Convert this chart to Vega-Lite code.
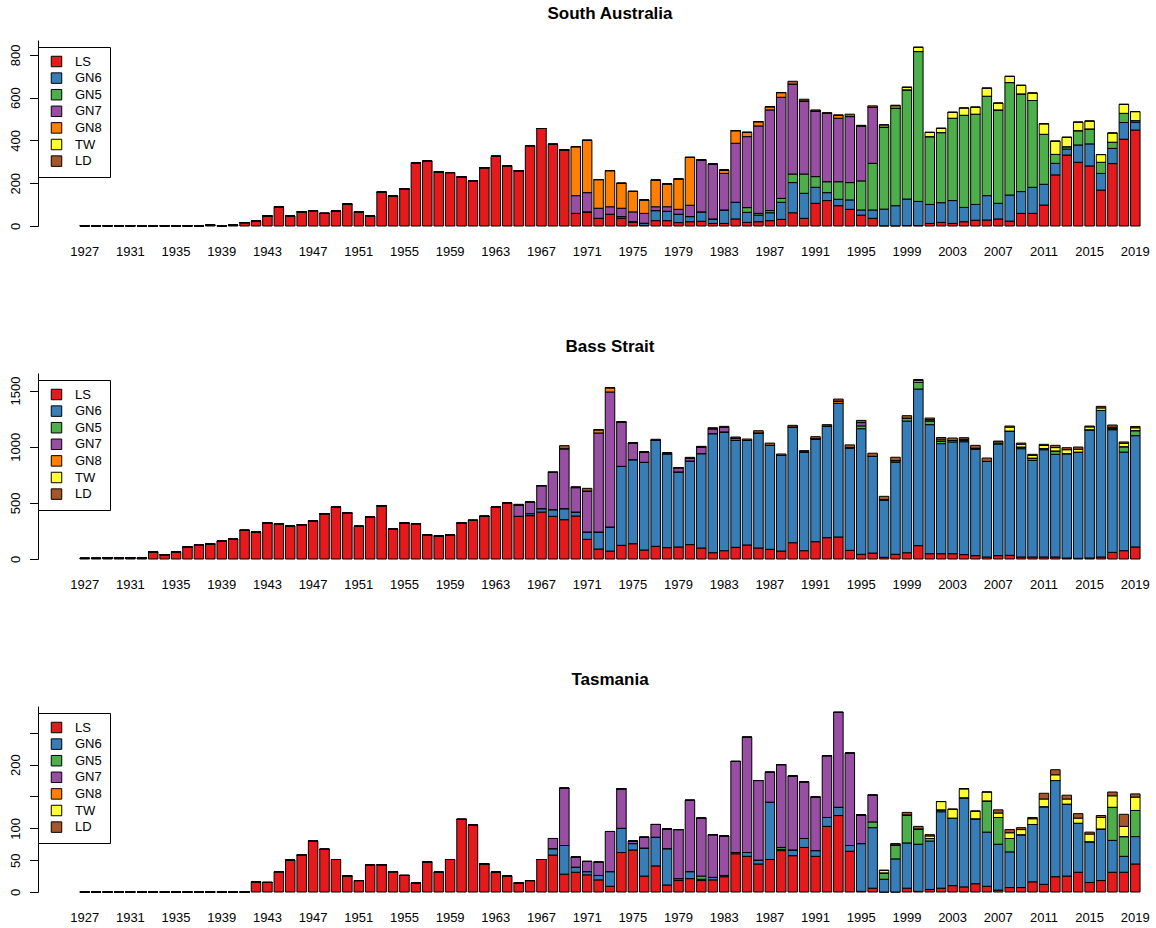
{
"$schema":"https://vega.github.io/schema/vega-lite/v6.json",
"padding":{"left":9,"top":5,"right":0,"bottom":0},
"background":"white",
"spacing":80,
"config":{"font":"Liberation Sans","view":{"stroke":null},"axis":{"labelColor":"black","domainColor":"black","tickColor":"black","grid":false,"labelFontSize":13}},
"datasets":{
"cats":[{"key":"LS","rank":1},{"key":"GN6","rank":2},{"key":"GN5","rank":3},{"key":"GN7","rank":4},{"key":"GN8","rank":5},{"key":"TW","rank":6},{"key":"LD","rank":7}],
"sa":[
{"year":1927,"LS":1,"GN6":0,"GN5":0,"GN7":0,"GN8":0,"TW":0,"LD":0},
{"year":1928,"LS":1,"GN6":0,"GN5":0,"GN7":0,"GN8":0,"TW":0,"LD":0},
{"year":1929,"LS":1,"GN6":0,"GN5":0,"GN7":0,"GN8":0,"TW":0,"LD":0},
{"year":1930,"LS":1,"GN6":0,"GN5":0,"GN7":0,"GN8":0,"TW":0,"LD":0},
{"year":1931,"LS":1,"GN6":0,"GN5":0,"GN7":0,"GN8":0,"TW":0,"LD":0},
{"year":1932,"LS":1,"GN6":0,"GN5":0,"GN7":0,"GN8":0,"TW":0,"LD":0},
{"year":1933,"LS":1,"GN6":0,"GN5":0,"GN7":0,"GN8":0,"TW":0,"LD":0},
{"year":1934,"LS":1,"GN6":0,"GN5":0,"GN7":0,"GN8":0,"TW":0,"LD":0},
{"year":1935,"LS":1,"GN6":0,"GN5":0,"GN7":0,"GN8":0,"TW":0,"LD":0},
{"year":1936,"LS":1,"GN6":0,"GN5":0,"GN7":0,"GN8":0,"TW":0,"LD":0},
{"year":1937,"LS":1,"GN6":0,"GN5":0,"GN7":0,"GN8":0,"TW":0,"LD":0},
{"year":1938,"LS":4,"GN6":0,"GN5":0,"GN7":0,"GN8":0,"TW":0,"LD":0},
{"year":1939,"LS":1,"GN6":0,"GN5":0,"GN7":0,"GN8":0,"TW":0,"LD":0},
{"year":1940,"LS":4,"GN6":0,"GN5":0,"GN7":0,"GN8":0,"TW":0,"LD":0},
{"year":1941,"LS":16,"GN6":0,"GN5":0,"GN7":0,"GN8":0,"TW":0,"LD":0},
{"year":1942,"LS":23,"GN6":0,"GN5":0,"GN7":0,"GN8":0,"TW":0,"LD":0},
{"year":1943,"LS":47,"GN6":0,"GN5":0,"GN7":0,"GN8":0,"TW":0,"LD":0},
{"year":1944,"LS":90,"GN6":0,"GN5":0,"GN7":0,"GN8":0,"TW":0,"LD":0},
{"year":1945,"LS":47,"GN6":0,"GN5":0,"GN7":0,"GN8":0,"TW":0,"LD":0},
{"year":1946,"LS":67,"GN6":0,"GN5":0,"GN7":0,"GN8":0,"TW":0,"LD":0},
{"year":1947,"LS":72,"GN6":0,"GN5":0,"GN7":0,"GN8":0,"TW":0,"LD":0},
{"year":1948,"LS":59,"GN6":0,"GN5":0,"GN7":0,"GN8":0,"TW":0,"LD":0},
{"year":1949,"LS":70,"GN6":0,"GN5":0,"GN7":0,"GN8":0,"TW":0,"LD":0},
{"year":1950,"LS":102,"GN6":0,"GN5":0,"GN7":0,"GN8":0,"TW":0,"LD":0},
{"year":1951,"LS":67,"GN6":0,"GN5":0,"GN7":0,"GN8":0,"TW":0,"LD":0},
{"year":1952,"LS":47,"GN6":0,"GN5":0,"GN7":0,"GN8":0,"TW":0,"LD":0},
{"year":1953,"LS":158,"GN6":0,"GN5":0,"GN7":0,"GN8":0,"TW":0,"LD":0},
{"year":1954,"LS":140,"GN6":0,"GN5":0,"GN7":0,"GN8":0,"TW":0,"LD":0},
{"year":1955,"LS":173,"GN6":0,"GN5":0,"GN7":0,"GN8":0,"TW":0,"LD":0},
{"year":1956,"LS":296,"GN6":0,"GN5":0,"GN7":0,"GN8":0,"TW":0,"LD":0},
{"year":1957,"LS":303,"GN6":0,"GN5":0,"GN7":0,"GN8":0,"TW":0,"LD":0},
{"year":1958,"LS":254,"GN6":0,"GN5":0,"GN7":0,"GN8":0,"TW":0,"LD":0},
{"year":1959,"LS":250,"GN6":0,"GN5":0,"GN7":0,"GN8":0,"TW":0,"LD":0},
{"year":1960,"LS":229,"GN6":0,"GN5":0,"GN7":0,"GN8":0,"TW":0,"LD":0},
{"year":1961,"LS":212,"GN6":0,"GN5":0,"GN7":0,"GN8":0,"TW":0,"LD":0},
{"year":1962,"LS":273,"GN6":0,"GN5":0,"GN7":0,"GN8":0,"TW":0,"LD":0},
{"year":1963,"LS":326,"GN6":0,"GN5":0,"GN7":0,"GN8":0,"TW":0,"LD":0},
{"year":1964,"LS":282,"GN6":0,"GN5":0,"GN7":0,"GN8":0,"TW":0,"LD":0},
{"year":1965,"LS":259,"GN6":0,"GN5":0,"GN7":0,"GN8":0,"TW":0,"LD":0},
{"year":1966,"LS":376,"GN6":0,"GN5":0,"GN7":0,"GN8":0,"TW":0,"LD":0},
{"year":1967,"LS":456,"GN6":0,"GN5":0,"GN7":0,"GN8":0,"TW":0,"LD":0},
{"year":1968,"LS":382,"GN6":0,"GN5":0,"GN7":0,"GN8":0,"TW":0,"LD":0},
{"year":1969,"LS":357,"GN6":0,"GN5":0,"GN7":0,"GN8":0,"TW":0,"LD":0},
{"year":1970,"LS":59,"GN6":0,"GN5":0,"GN7":83,"GN8":229,"TW":0,"LD":0},
{"year":1971,"LS":66,"GN6":0,"GN5":0,"GN7":90,"GN8":245,"TW":0,"LD":0},
{"year":1972,"LS":36,"GN6":0,"GN5":0,"GN7":47,"GN8":134,"TW":0,"LD":0},
{"year":1973,"LS":55,"GN6":0,"GN5":0,"GN7":35,"GN8":169,"TW":0,"LD":0},
{"year":1974,"LS":36,"GN6":8,"GN5":0,"GN7":39,"GN8":117,"TW":0,"LD":0},
{"year":1975,"LS":18,"GN6":2,"GN5":0,"GN7":46,"GN8":96,"TW":0,"LD":0},
{"year":1976,"LS":3,"GN6":10,"GN5":0,"GN7":46,"GN8":63,"TW":0,"LD":0},
{"year":1977,"LS":25,"GN6":47,"GN5":0,"GN7":18,"GN8":125,"TW":0,"LD":0},
{"year":1978,"LS":25,"GN6":44,"GN5":0,"GN7":21,"GN8":107,"TW":0,"LD":0},
{"year":1979,"LS":16,"GN6":39,"GN5":0,"GN7":23,"GN8":142,"TW":0,"LD":0},
{"year":1980,"LS":20,"GN6":24,"GN5":0,"GN7":53,"GN8":224,"TW":0,"LD":0},
{"year":1981,"LS":22,"GN6":44,"GN5":0,"GN7":243,"GN8":0,"TW":0,"LD":0},
{"year":1982,"LS":12,"GN6":21,"GN5":0,"GN7":257,"GN8":0,"TW":0,"LD":0},
{"year":1983,"LS":12,"GN6":63,"GN5":0,"GN7":171,"GN8":16,"TW":0,"LD":0},
{"year":1984,"LS":33,"GN6":78,"GN5":0,"GN7":276,"GN8":59,"TW":0,"LD":0},
{"year":1985,"LS":17,"GN6":47,"GN5":22,"GN7":332,"GN8":20,"TW":0,"LD":0},
{"year":1986,"LS":20,"GN6":31,"GN5":8,"GN7":409,"GN8":20,"TW":0,"LD":0},
{"year":1987,"LS":25,"GN6":37,"GN5":10,"GN7":471,"GN8":15,"TW":0,"LD":0},
{"year":1988,"LS":31,"GN6":80,"GN5":18,"GN7":473,"GN8":22,"TW":0,"LD":0},
{"year":1989,"LS":62,"GN6":141,"GN5":40,"GN7":420,"GN8":0,"TW":0,"LD":14},
{"year":1990,"LS":36,"GN6":117,"GN5":90,"GN7":342,"GN8":0,"TW":0,"LD":8},
{"year":1991,"LS":106,"GN6":75,"GN5":50,"GN7":307,"GN8":0,"TW":0,"LD":5},
{"year":1992,"LS":119,"GN6":37,"GN5":51,"GN7":320,"GN8":0,"TW":0,"LD":3},
{"year":1993,"LS":95,"GN6":30,"GN5":82,"GN7":297,"GN8":14,"TW":0,"LD":0},
{"year":1994,"LS":78,"GN6":44,"GN5":81,"GN7":309,"GN8":0,"TW":0,"LD":11},
{"year":1995,"LS":51,"GN6":24,"GN5":136,"GN7":257,"GN8":0,"TW":0,"LD":3},
{"year":1996,"LS":36,"GN6":39,"GN5":218,"GN7":262,"GN8":0,"TW":0,"LD":7},
{"year":1997,"LS":1,"GN6":78,"GN5":384,"GN7":0,"GN8":0,"TW":10,"LD":0},
{"year":1998,"LS":1,"GN6":94,"GN5":457,"GN7":0,"GN8":0,"TW":10,"LD":3},
{"year":1999,"LS":2,"GN6":124,"GN5":511,"GN7":0,"GN8":0,"TW":12,"LD":0},
{"year":2000,"LS":2,"GN6":113,"GN5":701,"GN7":0,"GN8":0,"TW":20,"LD":0},
{"year":2001,"LS":12,"GN6":89,"GN5":317,"GN7":0,"GN8":0,"TW":20,"LD":0},
{"year":2002,"LS":17,"GN6":92,"GN5":328,"GN7":0,"GN8":0,"TW":20,"LD":0},
{"year":2003,"LS":12,"GN6":107,"GN5":385,"GN7":0,"GN8":0,"TW":28,"LD":0},
{"year":2004,"LS":20,"GN6":67,"GN5":431,"GN7":0,"GN8":0,"TW":34,"LD":0},
{"year":2005,"LS":27,"GN6":74,"GN5":422,"GN7":0,"GN8":0,"TW":33,"LD":0},
{"year":2006,"LS":28,"GN6":114,"GN5":465,"GN7":0,"GN8":0,"TW":38,"LD":0},
{"year":2007,"LS":33,"GN6":73,"GN5":437,"GN7":0,"GN8":0,"TW":32,"LD":0},
{"year":2008,"LS":23,"GN6":122,"GN5":526,"GN7":0,"GN8":0,"TW":29,"LD":0},
{"year":2009,"LS":59,"GN6":102,"GN5":457,"GN7":0,"GN8":0,"TW":40,"LD":0},
{"year":2010,"LS":59,"GN6":122,"GN5":406,"GN7":0,"GN8":0,"TW":35,"LD":0},
{"year":2011,"LS":98,"GN6":97,"GN5":234,"GN7":0,"GN8":0,"TW":49,"LD":0},
{"year":2012,"LS":239,"GN6":54,"GN5":42,"GN7":0,"GN8":0,"TW":62,"LD":0},
{"year":2013,"LS":332,"GN6":28,"GN5":11,"GN7":0,"GN8":0,"TW":44,"LD":0},
{"year":2014,"LS":298,"GN6":81,"GN5":67,"GN7":0,"GN8":0,"TW":40,"LD":0},
{"year":2015,"LS":281,"GN6":103,"GN5":70,"GN7":0,"GN8":0,"TW":37,"LD":0},
{"year":2016,"LS":168,"GN6":78,"GN5":52,"GN7":0,"GN8":0,"TW":36,"LD":0},
{"year":2017,"LS":292,"GN6":71,"GN5":29,"GN7":0,"GN8":0,"TW":43,"LD":0},
{"year":2018,"LS":406,"GN6":78,"GN5":43,"GN7":0,"GN8":0,"TW":42,"LD":0},
{"year":2019,"LS":449,"GN6":36,"GN5":8,"GN7":0,"GN8":0,"TW":42,"LD":0}
],
"bs":[
{"year":1927,"LS":6,"GN6":0,"GN5":0,"GN7":0,"GN8":0,"TW":0,"LD":0},
{"year":1928,"LS":6,"GN6":0,"GN5":0,"GN7":0,"GN8":0,"TW":0,"LD":0},
{"year":1929,"LS":12,"GN6":0,"GN5":0,"GN7":0,"GN8":0,"TW":0,"LD":0},
{"year":1930,"LS":12,"GN6":0,"GN5":0,"GN7":0,"GN8":0,"TW":0,"LD":0},
{"year":1931,"LS":12,"GN6":0,"GN5":0,"GN7":0,"GN8":0,"TW":0,"LD":0},
{"year":1932,"LS":12,"GN6":0,"GN5":0,"GN7":0,"GN8":0,"TW":0,"LD":0},
{"year":1933,"LS":65,"GN6":0,"GN5":0,"GN7":0,"GN8":0,"TW":0,"LD":0},
{"year":1934,"LS":39,"GN6":0,"GN5":0,"GN7":0,"GN8":0,"TW":0,"LD":0},
{"year":1935,"LS":65,"GN6":0,"GN5":0,"GN7":0,"GN8":0,"TW":0,"LD":0},
{"year":1936,"LS":107,"GN6":0,"GN5":0,"GN7":0,"GN8":0,"TW":0,"LD":0},
{"year":1937,"LS":125,"GN6":0,"GN5":0,"GN7":0,"GN8":0,"TW":0,"LD":0},
{"year":1938,"LS":134,"GN6":0,"GN5":0,"GN7":0,"GN8":0,"TW":0,"LD":0},
{"year":1939,"LS":160,"GN6":0,"GN5":0,"GN7":0,"GN8":0,"TW":0,"LD":0},
{"year":1940,"LS":178,"GN6":0,"GN5":0,"GN7":0,"GN8":0,"TW":0,"LD":0},
{"year":1941,"LS":255,"GN6":0,"GN5":0,"GN7":0,"GN8":0,"TW":0,"LD":0},
{"year":1942,"LS":240,"GN6":0,"GN5":0,"GN7":0,"GN8":0,"TW":0,"LD":0},
{"year":1943,"LS":320,"GN6":0,"GN5":0,"GN7":0,"GN8":0,"TW":0,"LD":0},
{"year":1944,"LS":315,"GN6":0,"GN5":0,"GN7":0,"GN8":0,"TW":0,"LD":0},
{"year":1945,"LS":294,"GN6":0,"GN5":0,"GN7":0,"GN8":0,"TW":0,"LD":0},
{"year":1946,"LS":306,"GN6":0,"GN5":0,"GN7":0,"GN8":0,"TW":0,"LD":0},
{"year":1947,"LS":341,"GN6":0,"GN5":0,"GN7":0,"GN8":0,"TW":0,"LD":0},
{"year":1948,"LS":404,"GN6":0,"GN5":0,"GN7":0,"GN8":0,"TW":0,"LD":0},
{"year":1949,"LS":463,"GN6":0,"GN5":0,"GN7":0,"GN8":0,"TW":0,"LD":0},
{"year":1950,"LS":409,"GN6":0,"GN5":0,"GN7":0,"GN8":0,"TW":0,"LD":0},
{"year":1951,"LS":291,"GN6":0,"GN5":0,"GN7":0,"GN8":0,"TW":0,"LD":0},
{"year":1952,"LS":374,"GN6":0,"GN5":0,"GN7":0,"GN8":0,"TW":0,"LD":0},
{"year":1953,"LS":475,"GN6":0,"GN5":0,"GN7":0,"GN8":0,"TW":0,"LD":0},
{"year":1954,"LS":267,"GN6":0,"GN5":0,"GN7":0,"GN8":0,"TW":0,"LD":0},
{"year":1955,"LS":320,"GN6":0,"GN5":0,"GN7":0,"GN8":0,"TW":0,"LD":0},
{"year":1956,"LS":315,"GN6":0,"GN5":0,"GN7":0,"GN8":0,"TW":0,"LD":0},
{"year":1957,"LS":214,"GN6":0,"GN5":0,"GN7":0,"GN8":0,"TW":0,"LD":0},
{"year":1958,"LS":205,"GN6":0,"GN5":0,"GN7":0,"GN8":0,"TW":0,"LD":0},
{"year":1959,"LS":214,"GN6":0,"GN5":0,"GN7":0,"GN8":0,"TW":0,"LD":0},
{"year":1960,"LS":320,"GN6":0,"GN5":0,"GN7":0,"GN8":0,"TW":0,"LD":0},
{"year":1961,"LS":344,"GN6":0,"GN5":0,"GN7":0,"GN8":0,"TW":0,"LD":0},
{"year":1962,"LS":380,"GN6":0,"GN5":0,"GN7":0,"GN8":0,"TW":0,"LD":0},
{"year":1963,"LS":463,"GN6":0,"GN5":0,"GN7":0,"GN8":0,"TW":0,"LD":0},
{"year":1964,"LS":498,"GN6":0,"GN5":0,"GN7":0,"GN8":0,"TW":0,"LD":0},
{"year":1965,"LS":380,"GN6":0,"GN5":0,"GN7":100,"GN8":0,"TW":0,"LD":7},
{"year":1966,"LS":386,"GN6":18,"GN5":0,"GN7":103,"GN8":0,"TW":0,"LD":0},
{"year":1967,"LS":418,"GN6":30,"GN5":0,"GN7":205,"GN8":0,"TW":0,"LD":0},
{"year":1968,"LS":380,"GN6":59,"GN5":0,"GN7":331,"GN8":0,"TW":0,"LD":7},
{"year":1969,"LS":350,"GN6":98,"GN5":0,"GN7":534,"GN8":0,"TW":0,"LD":27},
{"year":1970,"LS":383,"GN6":35,"GN5":0,"GN7":218,"GN8":0,"TW":0,"LD":8},
{"year":1971,"LS":175,"GN6":65,"GN5":0,"GN7":365,"GN8":0,"TW":0,"LD":24},
{"year":1972,"LS":89,"GN6":151,"GN5":0,"GN7":882,"GN8":29,"TW":0,"LD":0},
{"year":1973,"LS":71,"GN6":214,"GN5":0,"GN7":1202,"GN8":38,"TW":0,"LD":0},
{"year":1974,"LS":122,"GN6":703,"GN5":0,"GN7":395,"GN8":0,"TW":0,"LD":0},
{"year":1975,"LS":136,"GN6":748,"GN5":0,"GN7":149,"GN8":0,"TW":0,"LD":0},
{"year":1976,"LS":80,"GN6":781,"GN5":0,"GN7":92,"GN8":0,"TW":0,"LD":0},
{"year":1977,"LS":113,"GN6":943,"GN5":0,"GN7":0,"GN8":0,"TW":0,"LD":10},
{"year":1978,"LS":101,"GN6":837,"GN5":0,"GN7":0,"GN8":0,"TW":0,"LD":10},
{"year":1979,"LS":107,"GN6":668,"GN5":0,"GN7":38,"GN8":0,"TW":0,"LD":0},
{"year":1980,"LS":128,"GN6":744,"GN5":0,"GN7":25,"GN8":0,"TW":0,"LD":8},
{"year":1981,"LS":98,"GN6":840,"GN5":0,"GN7":59,"GN8":0,"TW":0,"LD":6},
{"year":1982,"LS":56,"GN6":1060,"GN5":0,"GN7":44,"GN8":0,"TW":0,"LD":9},
{"year":1983,"LS":74,"GN6":1057,"GN5":0,"GN7":41,"GN8":0,"TW":0,"LD":9},
{"year":1984,"LS":104,"GN6":952,"GN5":0,"GN7":21,"GN8":0,"TW":0,"LD":9},
{"year":1985,"LS":125,"GN6":931,"GN5":0,"GN7":0,"GN8":0,"TW":0,"LD":12},
{"year":1986,"LS":98,"GN6":1024,"GN5":0,"GN7":0,"GN8":0,"TW":0,"LD":20},
{"year":1987,"LS":86,"GN6":926,"GN5":0,"GN7":0,"GN8":0,"TW":0,"LD":20},
{"year":1988,"LS":71,"GN6":852,"GN5":0,"GN7":0,"GN8":0,"TW":0,"LD":12},
{"year":1989,"LS":145,"GN6":1030,"GN5":0,"GN7":0,"GN8":0,"TW":0,"LD":15},
{"year":1990,"LS":74,"GN6":881,"GN5":0,"GN7":0,"GN8":0,"TW":0,"LD":10},
{"year":1991,"LS":154,"GN6":917,"GN5":0,"GN7":0,"GN8":0,"TW":0,"LD":18},
{"year":1992,"LS":190,"GN6":994,"GN5":0,"GN7":0,"GN8":0,"TW":0,"LD":12},
{"year":1993,"LS":196,"GN6":1190,"GN5":0,"GN7":0,"GN8":20,"TW":0,"LD":18},
{"year":1994,"LS":77,"GN6":914,"GN5":0,"GN7":0,"GN8":0,"TW":0,"LD":25},
{"year":1995,"LS":42,"GN6":1118,"GN5":25,"GN7":30,"GN8":0,"TW":0,"LD":19},
{"year":1996,"LS":53,"GN6":861,"GN5":0,"GN7":0,"GN8":0,"TW":0,"LD":28},
{"year":1997,"LS":15,"GN6":513,"GN5":0,"GN7":0,"GN8":0,"TW":0,"LD":30},
{"year":1998,"LS":42,"GN6":819,"GN5":15,"GN7":0,"GN8":0,"TW":0,"LD":30},
{"year":1999,"LS":56,"GN6":1172,"GN5":25,"GN7":0,"GN8":0,"TW":0,"LD":23},
{"year":2000,"LS":119,"GN6":1394,"GN5":60,"GN7":0,"GN8":0,"TW":15,"LD":10},
{"year":2001,"LS":47,"GN6":1149,"GN5":35,"GN7":0,"GN8":0,"TW":10,"LD":14},
{"year":2002,"LS":47,"GN6":980,"GN5":25,"GN7":0,"GN8":0,"TW":15,"LD":15},
{"year":2003,"LS":47,"GN6":995,"GN5":13,"GN7":0,"GN8":0,"TW":0,"LD":22},
{"year":2004,"LS":39,"GN6":1005,"GN5":12,"GN7":0,"GN8":0,"TW":10,"LD":14},
{"year":2005,"LS":30,"GN6":946,"GN5":10,"GN7":0,"GN8":0,"TW":0,"LD":26},
{"year":2006,"LS":18,"GN6":851,"GN5":0,"GN7":0,"GN8":0,"TW":0,"LD":30},
{"year":2007,"LS":30,"GN6":997,"GN5":0,"GN7":0,"GN8":0,"TW":15,"LD":8},
{"year":2008,"LS":33,"GN6":1106,"GN5":0,"GN7":0,"GN8":0,"TW":35,"LD":10},
{"year":2009,"LS":18,"GN6":964,"GN5":15,"GN7":0,"GN8":0,"TW":25,"LD":10},
{"year":2010,"LS":18,"GN6":860,"GN5":20,"GN7":0,"GN8":0,"TW":25,"LD":9},
{"year":2011,"LS":18,"GN6":955,"GN5":10,"GN7":0,"GN8":0,"TW":28,"LD":10},
{"year":2012,"LS":18,"GN6":914,"GN5":30,"GN7":0,"GN8":0,"TW":30,"LD":20},
{"year":2013,"LS":9,"GN6":929,"GN5":0,"GN7":0,"GN8":0,"TW":35,"LD":18},
{"year":2014,"LS":6,"GN6":946,"GN5":0,"GN7":0,"GN8":0,"TW":25,"LD":20},
{"year":2015,"LS":9,"GN6":1142,"GN5":0,"GN7":0,"GN8":0,"TW":25,"LD":8},
{"year":2016,"LS":18,"GN6":1305,"GN5":0,"GN7":0,"GN8":0,"TW":22,"LD":14},
{"year":2017,"LS":59,"GN6":1092,"GN5":10,"GN7":0,"GN8":0,"TW":12,"LD":20},
{"year":2018,"LS":74,"GN6":878,"GN5":48,"GN7":0,"GN8":0,"TW":30,"LD":12},
{"year":2019,"LS":107,"GN6":991,"GN5":45,"GN7":0,"GN8":0,"TW":25,"LD":12}
],
"tas":[
{"year":1927,"LS":0,"GN6":0,"GN5":0,"GN7":0,"GN8":0,"TW":0,"LD":0},
{"year":1928,"LS":0,"GN6":0,"GN5":0,"GN7":0,"GN8":0,"TW":0,"LD":0},
{"year":1929,"LS":0,"GN6":0,"GN5":0,"GN7":0,"GN8":0,"TW":0,"LD":0},
{"year":1930,"LS":0,"GN6":0,"GN5":0,"GN7":0,"GN8":0,"TW":0,"LD":0},
{"year":1931,"LS":0,"GN6":0,"GN5":0,"GN7":0,"GN8":0,"TW":0,"LD":0},
{"year":1932,"LS":0,"GN6":0,"GN5":0,"GN7":0,"GN8":0,"TW":0,"LD":0},
{"year":1933,"LS":0,"GN6":0,"GN5":0,"GN7":0,"GN8":0,"TW":0,"LD":0},
{"year":1934,"LS":0,"GN6":0,"GN5":0,"GN7":0,"GN8":0,"TW":0,"LD":0},
{"year":1935,"LS":0,"GN6":0,"GN5":0,"GN7":0,"GN8":0,"TW":0,"LD":0},
{"year":1936,"LS":0,"GN6":0,"GN5":0,"GN7":0,"GN8":0,"TW":0,"LD":0},
{"year":1937,"LS":0,"GN6":0,"GN5":0,"GN7":0,"GN8":0,"TW":0,"LD":0},
{"year":1938,"LS":0,"GN6":0,"GN5":0,"GN7":0,"GN8":0,"TW":0,"LD":0},
{"year":1939,"LS":0,"GN6":0,"GN5":0,"GN7":0,"GN8":0,"TW":0,"LD":0},
{"year":1940,"LS":0,"GN6":0,"GN5":0,"GN7":0,"GN8":0,"TW":0,"LD":0},
{"year":1941,"LS":0,"GN6":0,"GN5":0,"GN7":0,"GN8":0,"TW":0,"LD":0},
{"year":1942,"LS":16,"GN6":0,"GN5":0,"GN7":0,"GN8":0,"TW":0,"LD":0},
{"year":1943,"LS":15,"GN6":0,"GN5":0,"GN7":0,"GN8":0,"TW":0,"LD":0},
{"year":1944,"LS":32,"GN6":0,"GN5":0,"GN7":0,"GN8":0,"TW":0,"LD":0},
{"year":1945,"LS":50,"GN6":0,"GN5":0,"GN7":0,"GN8":0,"TW":0,"LD":0},
{"year":1946,"LS":58,"GN6":0,"GN5":0,"GN7":0,"GN8":0,"TW":0,"LD":0},
{"year":1947,"LS":80,"GN6":0,"GN5":0,"GN7":0,"GN8":0,"TW":0,"LD":0},
{"year":1948,"LS":67,"GN6":0,"GN5":0,"GN7":0,"GN8":0,"TW":0,"LD":0},
{"year":1949,"LS":51,"GN6":0,"GN5":0,"GN7":0,"GN8":0,"TW":0,"LD":0},
{"year":1950,"LS":25,"GN6":0,"GN5":0,"GN7":0,"GN8":0,"TW":0,"LD":0},
{"year":1951,"LS":18,"GN6":0,"GN5":0,"GN7":0,"GN8":0,"TW":0,"LD":0},
{"year":1952,"LS":43,"GN6":0,"GN5":0,"GN7":0,"GN8":0,"TW":0,"LD":0},
{"year":1953,"LS":43,"GN6":0,"GN5":0,"GN7":0,"GN8":0,"TW":0,"LD":0},
{"year":1954,"LS":32,"GN6":0,"GN5":0,"GN7":0,"GN8":0,"TW":0,"LD":0},
{"year":1955,"LS":26,"GN6":0,"GN5":0,"GN7":0,"GN8":0,"TW":0,"LD":0},
{"year":1956,"LS":14,"GN6":0,"GN5":0,"GN7":0,"GN8":0,"TW":0,"LD":0},
{"year":1957,"LS":47,"GN6":0,"GN5":0,"GN7":0,"GN8":0,"TW":0,"LD":0},
{"year":1958,"LS":31,"GN6":0,"GN5":0,"GN7":0,"GN8":0,"TW":0,"LD":0},
{"year":1959,"LS":51,"GN6":0,"GN5":0,"GN7":0,"GN8":0,"TW":0,"LD":0},
{"year":1960,"LS":114,"GN6":0,"GN5":0,"GN7":0,"GN8":0,"TW":0,"LD":0},
{"year":1961,"LS":105,"GN6":0,"GN5":0,"GN7":0,"GN8":0,"TW":0,"LD":0},
{"year":1962,"LS":44,"GN6":0,"GN5":0,"GN7":0,"GN8":0,"TW":0,"LD":0},
{"year":1963,"LS":31,"GN6":0,"GN5":0,"GN7":0,"GN8":0,"TW":0,"LD":0},
{"year":1964,"LS":25,"GN6":0,"GN5":0,"GN7":0,"GN8":0,"TW":0,"LD":0},
{"year":1965,"LS":14,"GN6":0,"GN5":0,"GN7":0,"GN8":0,"TW":0,"LD":0},
{"year":1966,"LS":18,"GN6":0,"GN5":0,"GN7":0,"GN8":0,"TW":0,"LD":0},
{"year":1967,"LS":51,"GN6":0,"GN5":0,"GN7":0,"GN8":0,"TW":0,"LD":0},
{"year":1968,"LS":58,"GN6":10,"GN5":0,"GN7":16,"GN8":0,"TW":0,"LD":0},
{"year":1969,"LS":28,"GN6":45,"GN5":0,"GN7":90,"GN8":0,"TW":0,"LD":0},
{"year":1970,"LS":31,"GN6":8,"GN5":0,"GN7":16,"GN8":0,"TW":0,"LD":0},
{"year":1971,"LS":27,"GN6":5,"GN5":0,"GN7":16,"GN8":0,"TW":0,"LD":0},
{"year":1972,"LS":19,"GN6":7,"GN5":0,"GN7":21,"GN8":0,"TW":0,"LD":0},
{"year":1973,"LS":9,"GN6":23,"GN5":0,"GN7":63,"GN8":0,"TW":0,"LD":0},
{"year":1974,"LS":62,"GN6":38,"GN5":0,"GN7":62,"GN8":0,"TW":0,"LD":0},
{"year":1975,"LS":66,"GN6":10,"GN5":0,"GN7":4,"GN8":0,"TW":0,"LD":0},
{"year":1976,"LS":25,"GN6":44,"GN5":0,"GN7":17,"GN8":0,"TW":0,"LD":0},
{"year":1977,"LS":41,"GN6":45,"GN5":0,"GN7":20,"GN8":0,"TW":0,"LD":0},
{"year":1978,"LS":11,"GN6":57,"GN5":0,"GN7":31,"GN8":0,"TW":0,"LD":0},
{"year":1979,"LS":18,"GN6":3,"GN5":0,"GN7":77,"GN8":0,"TW":0,"LD":0},
{"year":1980,"LS":21,"GN6":11,"GN5":0,"GN7":112,"GN8":0,"TW":0,"LD":0},
{"year":1981,"LS":18,"GN6":2,"GN5":5,"GN7":91,"GN8":0,"TW":0,"LD":0},
{"year":1982,"LS":19,"GN6":4,"GN5":0,"GN7":67,"GN8":0,"TW":0,"LD":0},
{"year":1983,"LS":24,"GN6":2,"GN5":0,"GN7":62,"GN8":0,"TW":0,"LD":0},
{"year":1984,"LS":60,"GN6":2,"GN5":0,"GN7":143,"GN8":0,"TW":0,"LD":0},
{"year":1985,"LS":56,"GN6":6,"GN5":0,"GN7":181,"GN8":0,"TW":0,"LD":0},
{"year":1986,"LS":44,"GN6":6,"GN5":0,"GN7":125,"GN8":0,"TW":0,"LD":0},
{"year":1987,"LS":51,"GN6":90,"GN5":0,"GN7":47,"GN8":0,"TW":0,"LD":0},
{"year":1988,"LS":65,"GN6":2,"GN5":3,"GN7":130,"GN8":0,"TW":0,"LD":0},
{"year":1989,"LS":57,"GN6":9,"GN5":0,"GN7":116,"GN8":0,"TW":0,"LD":0},
{"year":1990,"LS":70,"GN6":14,"GN5":0,"GN7":89,"GN8":0,"TW":0,"LD":0},
{"year":1991,"LS":56,"GN6":9,"GN5":0,"GN7":84,"GN8":0,"TW":0,"LD":0},
{"year":1992,"LS":103,"GN6":14,"GN5":0,"GN7":97,"GN8":0,"TW":0,"LD":0},
{"year":1993,"LS":120,"GN6":13,"GN5":0,"GN7":149,"GN8":0,"TW":0,"LD":0},
{"year":1994,"LS":64,"GN6":9,"GN5":0,"GN7":145,"GN8":0,"TW":0,"LD":0},
{"year":1995,"LS":1,"GN6":75,"GN5":0,"GN7":45,"GN8":0,"TW":0,"LD":0},
{"year":1996,"LS":6,"GN6":95,"GN5":9,"GN7":42,"GN8":0,"TW":0,"LD":0},
{"year":1997,"LS":0,"GN6":20,"GN5":10,"GN7":0,"GN8":0,"TW":4,"LD":0},
{"year":1998,"LS":0,"GN6":52,"GN5":22,"GN7":0,"GN8":0,"TW":0,"LD":2},
{"year":1999,"LS":6,"GN6":71,"GN5":44,"GN7":0,"GN8":0,"TW":0,"LD":4},
{"year":2000,"LS":1,"GN6":74,"GN5":24,"GN7":0,"GN8":0,"TW":0,"LD":4},
{"year":2001,"LS":4,"GN6":76,"GN5":4,"GN7":0,"GN8":0,"TW":4,"LD":2},
{"year":2002,"LS":6,"GN6":120,"GN5":3,"GN7":0,"GN8":0,"TW":13,"LD":0},
{"year":2003,"LS":10,"GN6":106,"GN5":0,"GN7":0,"GN8":0,"TW":14,"LD":0},
{"year":2004,"LS":8,"GN6":140,"GN5":0,"GN7":0,"GN8":0,"TW":14,"LD":0},
{"year":2005,"LS":13,"GN6":102,"GN5":0,"GN7":0,"GN8":0,"TW":12,"LD":0},
{"year":2006,"LS":9,"GN6":85,"GN5":49,"GN7":0,"GN8":0,"TW":14,"LD":0},
{"year":2007,"LS":3,"GN6":72,"GN5":42,"GN7":0,"GN8":0,"TW":7,"LD":5},
{"year":2008,"LS":7,"GN6":56,"GN5":21,"GN7":0,"GN8":0,"TW":9,"LD":5},
{"year":2009,"LS":7,"GN6":83,"GN5":0,"GN7":0,"GN8":0,"TW":8,"LD":3},
{"year":2010,"LS":16,"GN6":90,"GN5":0,"GN7":0,"GN8":0,"TW":9,"LD":2},
{"year":2011,"LS":12,"GN6":122,"GN5":0,"GN7":0,"GN8":0,"TW":12,"LD":9},
{"year":2012,"LS":24,"GN6":151,"GN5":0,"GN7":0,"GN8":0,"TW":9,"LD":8},
{"year":2013,"LS":25,"GN6":113,"GN5":0,"GN7":0,"GN8":0,"TW":8,"LD":6},
{"year":2014,"LS":31,"GN6":77,"GN5":0,"GN7":0,"GN8":0,"TW":8,"LD":7},
{"year":2015,"LS":15,"GN6":64,"GN5":0,"GN7":0,"GN8":0,"TW":12,"LD":3},
{"year":2016,"LS":18,"GN6":81,"GN5":0,"GN7":0,"GN8":0,"TW":18,"LD":3},
{"year":2017,"LS":31,"GN6":50,"GN5":52,"GN7":0,"GN8":0,"TW":18,"LD":6},
{"year":2018,"LS":31,"GN6":25,"GN5":31,"GN7":0,"GN8":0,"TW":16,"LD":19},
{"year":2019,"LS":44,"GN6":43,"GN5":41,"GN7":0,"GN8":0,"TW":21,"LD":5}
]
},
"vconcat":[
{
"data":{"name":"sa"},
"title":{"text":"South Australia","fontSize":17,"fontWeight":"bold","offset":17,"anchor":"middle","color":"black"},
"width":1062,"height":186,
"transform":[{"fold":["LS","GN6","GN5","GN7","GN8","TW","LD"],"as":["key","value"]},{"lookup":"key","from":{"data":{"name":"cats"},"key":"key","fields":["rank"]}}],
"mark":{"type":"bar","stroke":"black","strokeWidth":1},
"encoding":{
"x":{"field":"year","type":"ordinal","scale":{"paddingInner":0.1667,"paddingOuter":0.0833},"axis":{"title":null,"values":[1927,1931,1935,1939,1943,1947,1951,1955,1959,1963,1967,1971,1975,1979,1983,1987,1991,1995,1999,2003,2007,2011,2015,2019],"labelAngle":0,"domain":false,"ticks":false,"tickSize":0,"labelPadding":19,"labelOverlap":false,"labelFlush":false}},
"y":{"field":"value","type":"quantitative","stack":"zero","scale":{"domain":[0,870],"nice":false},"axis":{"title":null,"values":[0,200,400,600,800],"format":"d","labelAngle":270,"labelAlign":"center","labelBaseline":"bottom","offset":41,"tickSize":8.5,"labelPadding":7}},
"color":{"field":"key","type":"nominal","sort":["LS","GN6","GN5","GN7","GN8","TW","LD"],"scale":{"domain":["LS","GN6","GN5","GN7","GN8","TW","LD"],"range":["#E41A1C","#377EB8","#4DAF4A","#984EA3","#FF7F00","#FFFF33","#A65628"]},"legend":{"title":null,"orient":"none","legendX":-41,"legendY":7,"direction":"vertical","symbolType":"square","symbolSize":110,"symbolStrokeColor":"black","symbolStrokeWidth":1,"symbolOpacity":1,"labelFontSize":13,"labelOffset":12,"padding":8,"symbolOffset":4,"rowPadding":1.6,"strokeColor":"black","fillColor":"white","labelColor":"black"}},
"order":{"field":"rank","type":"quantitative"}
}
},
{
"data":{"name":"bs"},
"title":{"text":"Bass Strait","fontSize":17,"fontWeight":"bold","offset":17,"anchor":"middle","color":"black"},
"width":1062,"height":186,
"transform":[{"fold":["LS","GN6","GN5","GN7","GN8","TW","LD"],"as":["key","value"]},{"lookup":"key","from":{"data":{"name":"cats"},"key":"key","fields":["rank"]}}],
"mark":{"type":"bar","stroke":"black","strokeWidth":1},
"encoding":{
"x":{"field":"year","type":"ordinal","scale":{"paddingInner":0.1667,"paddingOuter":0.0833},"axis":{"title":null,"values":[1927,1931,1935,1939,1943,1947,1951,1955,1959,1963,1967,1971,1975,1979,1983,1987,1991,1995,1999,2003,2007,2011,2015,2019],"labelAngle":0,"domain":false,"ticks":false,"tickSize":0,"labelPadding":19,"labelOverlap":false,"labelFlush":false}},
"y":{"field":"value","type":"quantitative","stack":"zero","scale":{"domain":[0,1656],"nice":false},"axis":{"title":null,"values":[0,500,1000,1500],"format":"d","labelAngle":270,"labelAlign":"center","labelBaseline":"bottom","offset":41,"tickSize":8.5,"labelPadding":7}},
"color":{"field":"key","type":"nominal","sort":["LS","GN6","GN5","GN7","GN8","TW","LD"],"scale":{"domain":["LS","GN6","GN5","GN7","GN8","TW","LD"],"range":["#E41A1C","#377EB8","#4DAF4A","#984EA3","#FF7F00","#FFFF33","#A65628"]},"legend":{"title":null,"orient":"none","legendX":-41,"legendY":7,"direction":"vertical","symbolType":"square","symbolSize":110,"symbolStrokeColor":"black","symbolStrokeWidth":1,"symbolOpacity":1,"labelFontSize":13,"labelOffset":12,"padding":8,"symbolOffset":4,"rowPadding":1.6,"strokeColor":"black","fillColor":"white","labelColor":"black"}},
"order":{"field":"rank","type":"quantitative"}
}
},
{
"data":{"name":"tas"},
"title":{"text":"Tasmania","fontSize":17,"fontWeight":"bold","offset":17,"anchor":"middle","color":"black"},
"width":1062,"height":186,
"transform":[{"fold":["LS","GN6","GN5","GN7","GN8","TW","LD"],"as":["key","value"]},{"lookup":"key","from":{"data":{"name":"cats"},"key":"key","fields":["rank"]}}],
"mark":{"type":"bar","stroke":"black","strokeWidth":1},
"encoding":{
"x":{"field":"year","type":"ordinal","scale":{"paddingInner":0.1667,"paddingOuter":0.0833},"axis":{"title":null,"values":[1927,1931,1935,1939,1943,1947,1951,1955,1959,1963,1967,1971,1975,1979,1983,1987,1991,1995,1999,2003,2007,2011,2015,2019],"labelAngle":0,"domain":false,"ticks":false,"tickSize":0,"labelPadding":19,"labelOverlap":false,"labelFlush":false}},
"y":{"field":"value","type":"quantitative","stack":"zero","scale":{"domain":[0,292],"nice":false},"axis":{"title":null,"values":[0,50,100,150,200,250],"format":"d","labelExpr":"datum.value == 150 || datum.value == 250 ? '' : datum.label","labelAngle":270,"labelAlign":"center","labelBaseline":"bottom","offset":41,"tickSize":8.5,"labelPadding":7}},
"color":{"field":"key","type":"nominal","sort":["LS","GN6","GN5","GN7","GN8","TW","LD"],"scale":{"domain":["LS","GN6","GN5","GN7","GN8","TW","LD"],"range":["#E41A1C","#377EB8","#4DAF4A","#984EA3","#FF7F00","#FFFF33","#A65628"]},"legend":{"title":null,"orient":"none","legendX":-41,"legendY":7,"direction":"vertical","symbolType":"square","symbolSize":110,"symbolStrokeColor":"black","symbolStrokeWidth":1,"symbolOpacity":1,"labelFontSize":13,"labelOffset":12,"padding":8,"symbolOffset":4,"rowPadding":1.6,"strokeColor":"black","fillColor":"white","labelColor":"black"}},
"order":{"field":"rank","type":"quantitative"}
}
}
],
"resolve":{"scale":{"color":"independent","y":"independent"},"legend":{"color":"independent"}}
}
